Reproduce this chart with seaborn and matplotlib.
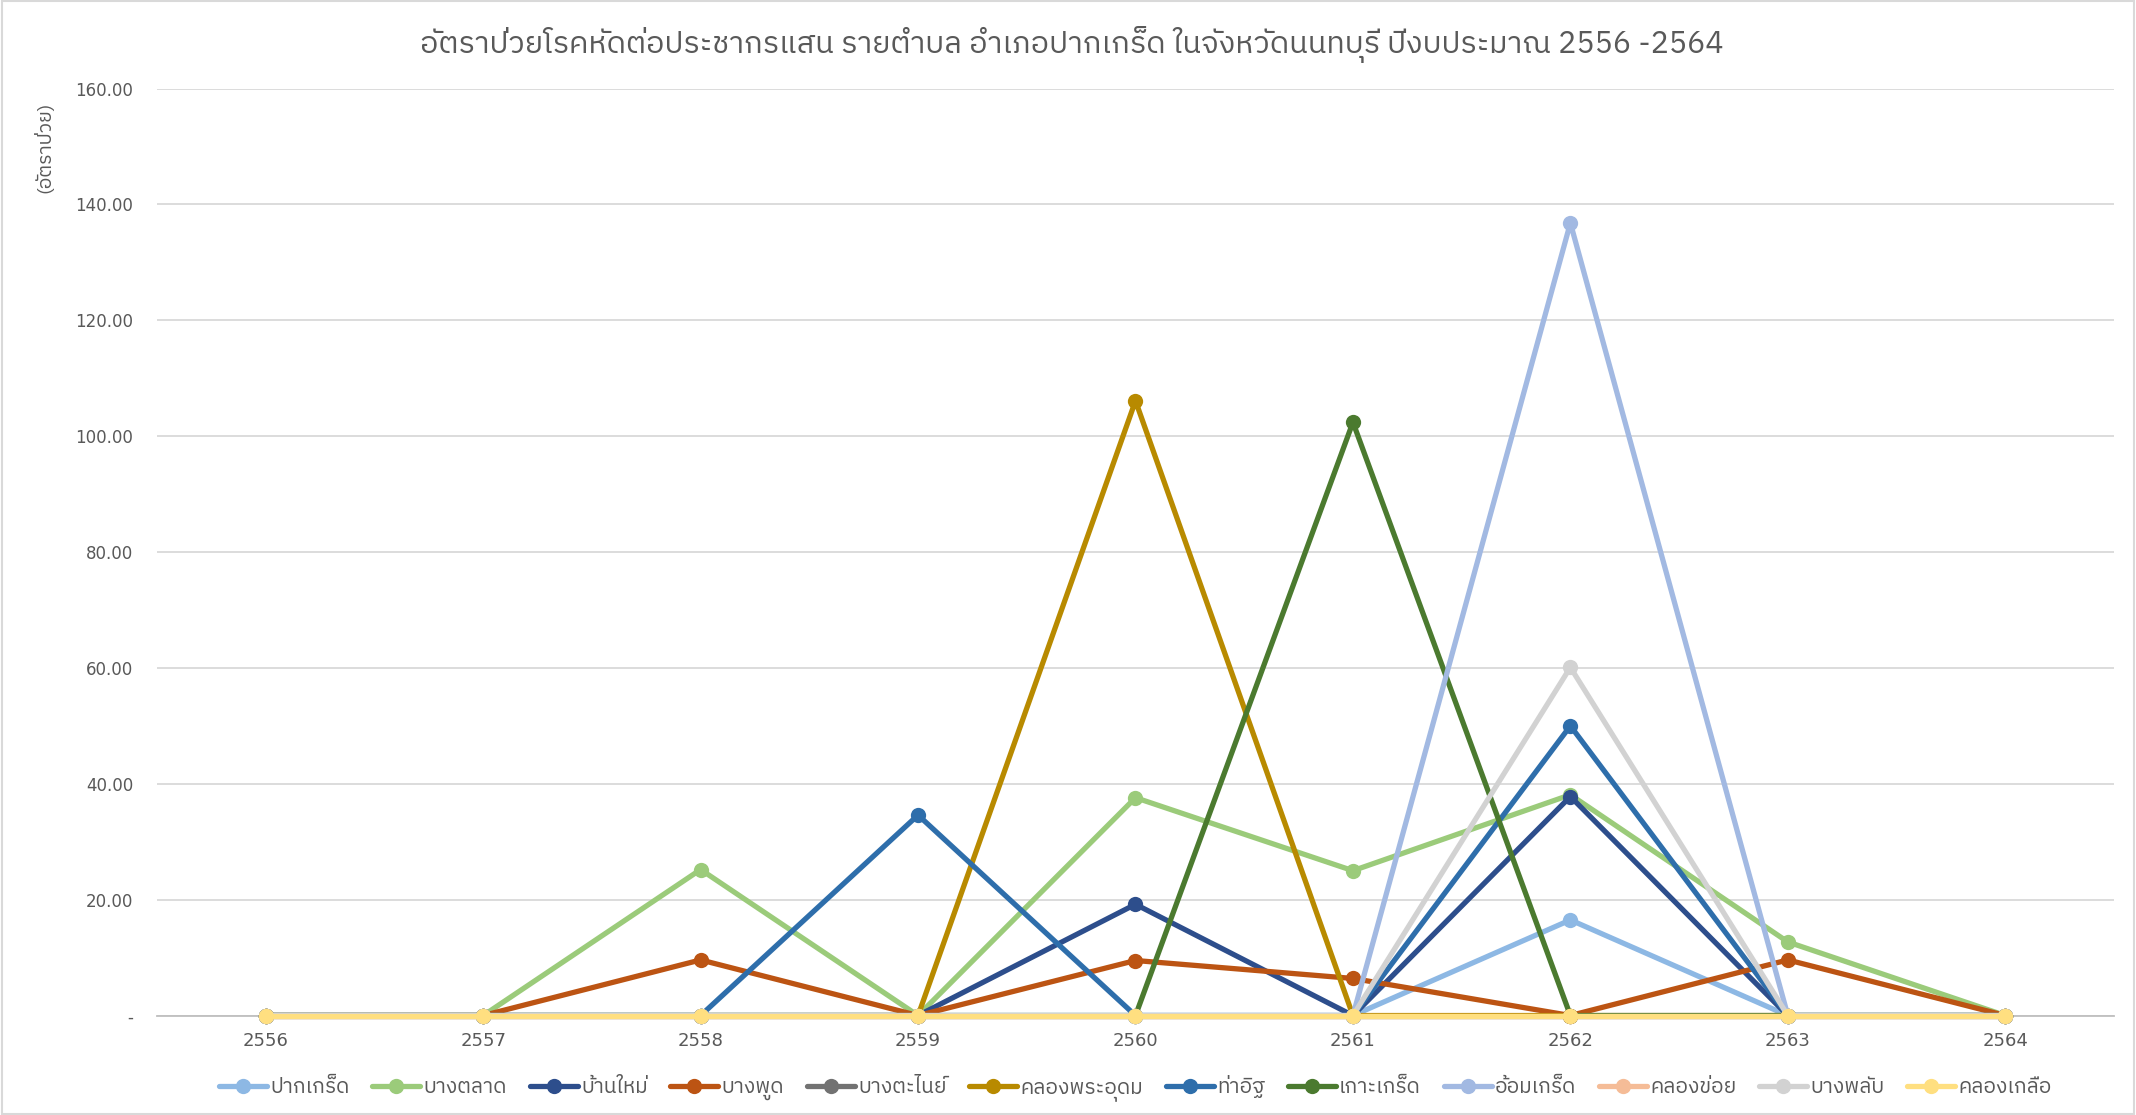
import matplotlib
matplotlib.use("Agg")
import matplotlib.pyplot as plt
from matplotlib import font_manager
from matplotlib.patches import Rectangle
import seaborn as sns
import pandas as pd


def find_thai_family():
    """Return the name of an installed family that has Thai glyphs."""
    try:
        from fontTools.ttLib import TTFont
    except Exception:
        return None
    found = []
    for entry in font_manager.fontManager.ttflist:
        try:
            tt = TTFont(entry.fname, fontNumber=0, lazy=True)
            cmap = tt.getBestCmap() or {}
            if 0x0E01 in cmap and 0x0E31 in cmap and 0x0E48 in cmap:
                found.append(entry.name)
        except Exception:
            continue
    if not found:
        return None
    found = sorted(set(found), key=lambda n: (0 if "Thai" in n else 1, "Looped" in n, n))
    return found[0]


# Fiscal years
years = [2556, 2557, 2558, 2559, 2560, 2561, 2562, 2563, 2564]

# Rate per 100,000 population, by sub-district
pak_kret = [0, 0, 0, 0, 0, 0, 16.5, 0, 0]
bang_talat = [0, 0, 25.2, 0, 37.6, 25.0, 38.1, 12.7, 0]
ban_mai = [0, 0, 0, 0, 19.2, 0, 37.8, 0, 0]
bang_phut = [0, 0, 9.6, 0, 9.5, 6.4, 0, 9.6, 0]
bang_tanai = [0, 0, 0, 0, 0, 0, 0, 0, 0]
khlong_phra_udom = [0, 0, 0, 0, 106.1, 0, 0, 0, 0]
tha_it = [0, 0, 0, 34.6, 0, 0, 50.0, 0, 0]
ko_kret = [0, 0, 0, 0, 0, 102.4, 0, 0, 0]
om_kret = [0, 0, 0, 0, 0, 0, 136.8, 0, 0]
khlong_khoi = [0, 0, 0, 0, 0, 0, 0, 0, 0]
bang_phlap = [0, 0, 0, 0, 0, 0, 60.1, 0, 0]
khlong_kluea = [0, 0, 0, 0, 0, 0, 0, 0, 0]

series_names = ["ปากเกร็ด", "บางตลาด", "บ้านใหม่", "บางพูด", "บางตะไนย์", "คลองพระอุดม",
                "ท่าอิฐ", "เกาะเกร็ด", "อ้อมเกร็ด", "คลองข่อย", "บางพลับ", "คลองเกลือ"]
series_values = [pak_kret, bang_talat, ban_mai, bang_phut, bang_tanai, khlong_phra_udom,
                 tha_it, ko_kret, om_kret, khlong_khoi, bang_phlap, khlong_kluea]
series_colors = ["#8DB8E4", "#9BCB7A", "#2D4E8C", "#BC5413", "#727272", "#B88A00",
                 "#2E6EAB", "#4B7A2F", "#A2B9E2", "#F5BC97", "#D2D2D2", "#FFDF80"]

y_ticks = [0, 20, 40, 60, 80, 100, 120, 140, 160]
y_tick_labels = ["-", "20.00", "40.00", "60.00", "80.00", "100.00", "120.00", "140.00", "160.00"]

title_text = "อัตราป่วยโรคหัดต่อประชากรแสน รายตำบล อำเภอปากเกร็ด ในจังหวัดนนทบุรี ปีงบประมาณ 2556 -2564"
y_label_text = "(อัตราป่วย)"

records = []
for name, vals in zip(series_names, series_values):
    for yr, v in zip(years, vals):
        records.append({"ปี": yr, "อัตรา": v, "ตำบล": name})
df = pd.DataFrame(records)

sns.set_theme(style="white")
thai = find_thai_family()
families = ([thai] if thai else []) + ["DejaVu Sans"]
plt.rcParams["font.family"] = families

text_grey = "#595959"

fig = plt.figure(figsize=(21.36, 11.15), dpi=100)
ax = fig.add_axes([0.0735, 0.0892, 0.9162, 0.8314])

sns.lineplot(
    data=df, x="ปี", y="อัตรา", hue="ตำบล", hue_order=series_names,
    palette=dict(zip(series_names, series_colors)),
    marker="o", markersize=11, markeredgewidth=0, linewidth=3.8,
    sort=False, errorbar=None, ax=ax, legend=True,
)
for line in ax.get_lines():
    line.set_zorder(3)
    line.set_clip_on(False)
    line.set_solid_joinstyle("round")

ax.set_xlim(2555.5, 2564.5)
ax.set_ylim(0, 160)
ax.set_xticks(years)
ax.set_xticklabels([str(y) for y in years])
ax.set_yticks(y_ticks)
ax.set_yticklabels(y_tick_labels)
ax.tick_params(axis="both", length=0, colors=text_grey, labelfontfamily="DejaVu Sans")
ax.tick_params(axis="x", pad=12, labelsize=13)
ax.tick_params(axis="y", pad=17, labelsize=12)

ax.grid(axis="y", color="#D9D9D9", linewidth=1.3)
ax.set_axisbelow(True)
for side in ["top", "right", "left"]:
    ax.spines[side].set_visible(False)
ax.spines["bottom"].set_color("#BFBFBF")
ax.spines["bottom"].set_linewidth(1.3)
ax.spines["bottom"].set_zorder(1)

ax.set_xlabel("")
ax.set_ylabel("")

fig.text(0.502, 0.960, title_text, ha="center", va="center", fontsize=22, color=text_grey)
fig.text(0.021, 0.868, y_label_text, ha="center", va="center", rotation=90, fontsize=14,
         color=text_grey)

handles, labels = ax.get_legend_handles_labels()
for h in handles:
    h.set_linewidth(3.8)
    h.set_markersize(11)
ax.legend(handles, labels, loc="center", bbox_to_anchor=(0.5, -0.078), ncol=12,
          frameon=False, fontsize=15, handlelength=2.3, handletextpad=0.15,
          columnspacing=1.1, labelcolor=text_grey)

fig.patches.append(Rectangle((0.001, 0.001), 0.998, 0.998, transform=fig.transFigure,
                             fill=False, edgecolor="#D9D9D9", linewidth=1.5))

fig.savefig("out.png", dpi=100, facecolor="white")
